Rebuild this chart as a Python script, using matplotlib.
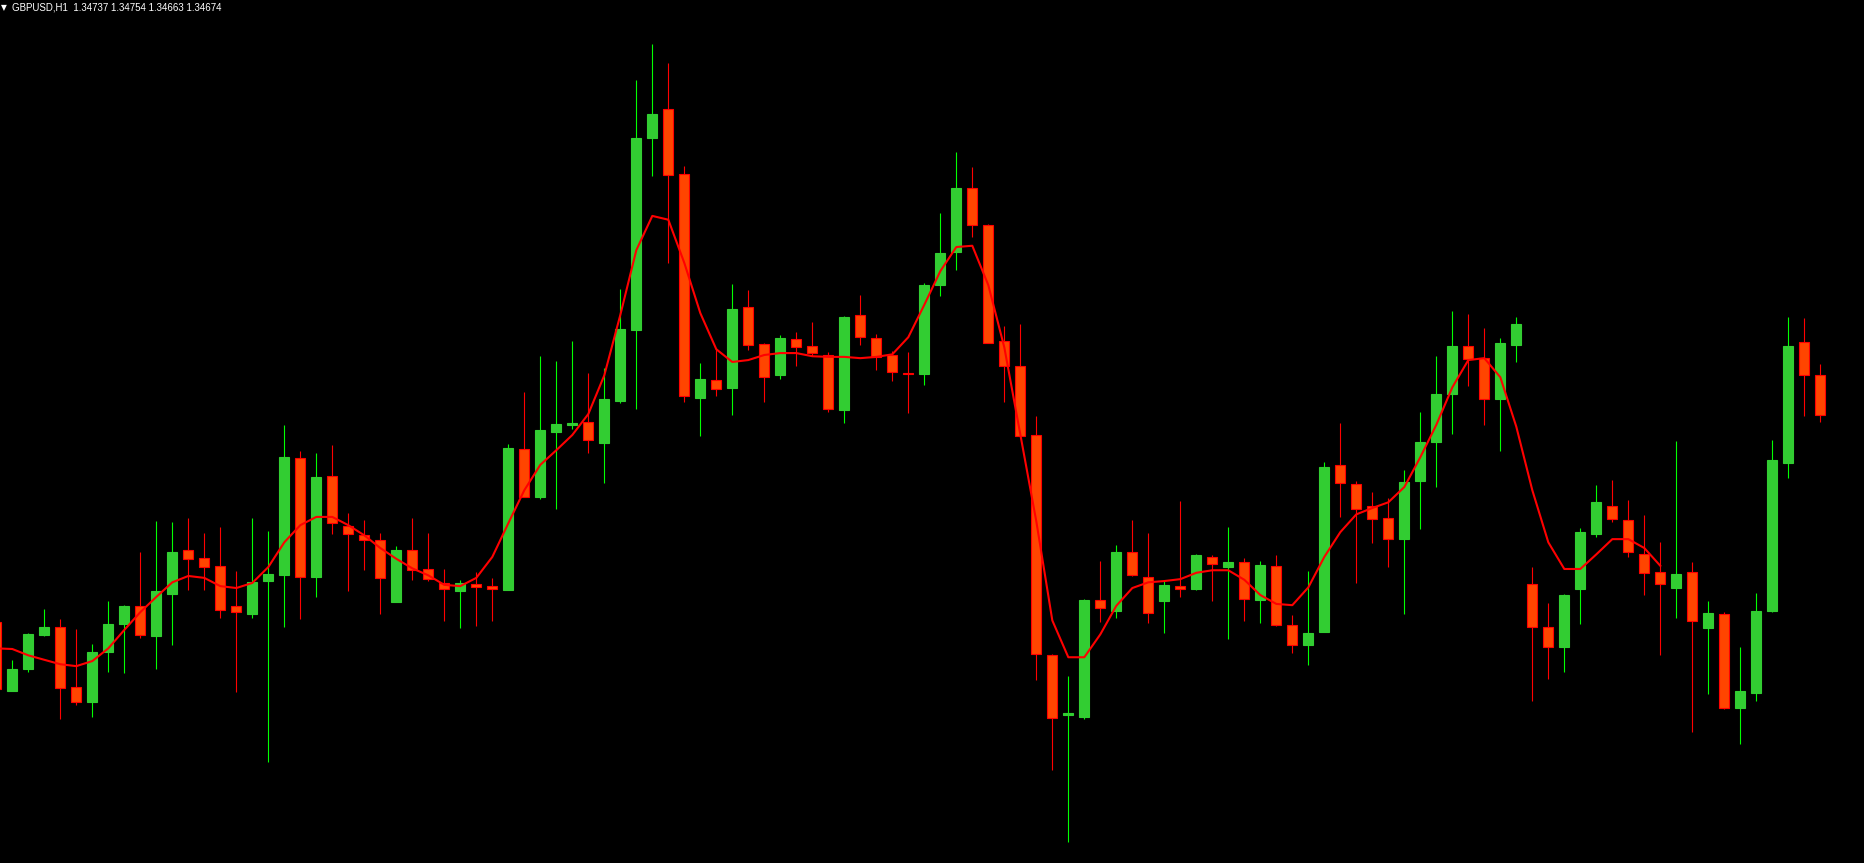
import numpy as np
import matplotlib.pyplot as plt

symbol = "GBPUSD,H1"

# hourly candles, oldest first
opens = [1.34347, 1.34239, 1.34273, 1.34327, 1.34340, 1.34245, 1.34221, 1.34300, 1.34344, 1.34373,
         1.34325, 1.34391, 1.34461, 1.34448, 1.34436, 1.34373, 1.34360, 1.34412, 1.34421, 1.34606,
         1.34418, 1.34577, 1.34499, 1.34484, 1.34477, 1.34379, 1.34461, 1.34431, 1.34409, 1.34396,
         1.34407, 1.34404, 1.34398, 1.34620, 1.34544, 1.34647, 1.34658, 1.34662, 1.34629, 1.34695,
         1.34807, 1.35110, 1.35155, 1.35053, 1.34700, 1.34728, 1.34716, 1.34843, 1.34785, 1.34736,
         1.34793, 1.34782, 1.34768, 1.34681, 1.34831, 1.34795, 1.34768, 1.34740, 1.34738, 1.34878,
         1.34930, 1.35031, 1.34973, 1.34790, 1.34751, 1.34642, 1.34295, 1.34201, 1.34198, 1.34382,
         1.34365, 1.34458, 1.34418, 1.34381, 1.34404, 1.34399, 1.34450, 1.34434, 1.34442, 1.34382,
         1.34436, 1.34343, 1.34311, 1.34332, 1.34595, 1.34565, 1.34530, 1.34511, 1.34478, 1.34569,
         1.34631, 1.34706, 1.34782, 1.34763, 1.34699, 1.34784, 1.34407, 1.34340, 1.34308, 1.34399,
         1.34486, 1.34530, 1.34508, 1.34454, 1.34426, 1.34401, 1.34426, 1.34338, 1.34360, 1.34212,
         1.34236, 1.34365, 1.34598, 1.34788, 1.34737]
highs = [1.34358, 1.34288, 1.34330, 1.34368, 1.34352, 1.34336, 1.34313, 1.34380, 1.34374, 1.34458,
         1.34506, 1.34505, 1.34511, 1.34488, 1.34497, 1.34428, 1.34511, 1.34491, 1.34658, 1.34617,
         1.34614, 1.34626, 1.34519, 1.34508, 1.34488, 1.34467, 1.34511, 1.34488, 1.34431, 1.34414,
         1.34426, 1.34417, 1.34628, 1.34710, 1.34766, 1.34758, 1.34790, 1.34740, 1.34747, 1.34872,
         1.35201, 1.35258, 1.35228, 1.35066, 1.34755, 1.34779, 1.34880, 1.34870, 1.34787, 1.34799,
         1.34804, 1.34820, 1.34773, 1.34829, 1.34862, 1.34801, 1.34774, 1.34773, 1.34881, 1.34992,
         1.35088, 1.35064, 1.34974, 1.34814, 1.34817, 1.34672, 1.34297, 1.34262, 1.34384, 1.34443,
         1.34469, 1.34508, 1.34488, 1.34414, 1.34538, 1.34454, 1.34453, 1.34497, 1.34448, 1.34443,
         1.34453, 1.34358, 1.34428, 1.34599, 1.34661, 1.34569, 1.34552, 1.34543, 1.34587, 1.34678,
         1.34766, 1.34837, 1.34832, 1.34810, 1.34795, 1.34828, 1.34434, 1.34377, 1.34391, 1.34495,
         1.34563, 1.34571, 1.34539, 1.34516, 1.34473, 1.34632, 1.34442, 1.34380, 1.34363, 1.34308,
         1.34393, 1.34634, 1.34828, 1.34826, 1.34754]
lows = [1.34232, 1.34239, 1.34269, 1.34325, 1.34195, 1.34217, 1.34198, 1.34269, 1.34267, 1.34322,
        1.34273, 1.34311, 1.34398, 1.34398, 1.34354, 1.34237, 1.34354, 1.34127, 1.34340, 1.34352,
        1.34387, 1.34486, 1.34396, 1.34429, 1.34360, 1.34379, 1.34414, 1.34412, 1.34349, 1.34338,
        1.34341, 1.34349, 1.34398, 1.34544, 1.34541, 1.34525, 1.34651, 1.34614, 1.34566, 1.34692,
        1.34683, 1.35050, 1.34913, 1.34694, 1.34640, 1.34703, 1.34673, 1.34776, 1.34694, 1.34730,
        1.34751, 1.34766, 1.34678, 1.34661, 1.34784, 1.34744, 1.34727, 1.34676, 1.34721, 1.34861,
        1.34902, 1.34954, 1.34787, 1.34694, 1.34640, 1.34256, 1.34114, 1.34001, 1.34195, 1.34347,
        1.34354, 1.34420, 1.34346, 1.34330, 1.34387, 1.34398, 1.34380, 1.34321, 1.34349, 1.34346,
        1.34341, 1.34299, 1.34280, 1.34332, 1.34513, 1.34409, 1.34472, 1.34434, 1.34360, 1.34494,
        1.34560, 1.34643, 1.34719, 1.34658, 1.34617, 1.34757, 1.34223, 1.34258, 1.34269, 1.34344,
        1.34481, 1.34505, 1.34450, 1.34390, 1.34295, 1.34354, 1.34174, 1.34234, 1.34210, 1.34155,
        1.34223, 1.34363, 1.34574, 1.34672, 1.34663]
closes = [1.34242, 1.34273, 1.34328, 1.34340, 1.34243, 1.34221, 1.34300, 1.34344, 1.34373, 1.34327,
          1.34396, 1.34458, 1.34447, 1.34434, 1.34366, 1.34363, 1.34410, 1.34423, 1.34607, 1.34418,
          1.34576, 1.34503, 1.34486, 1.34477, 1.34417, 1.34461, 1.34429, 1.34415, 1.34399, 1.34409,
          1.34402, 1.34399, 1.34621, 1.34544, 1.34650, 1.34659, 1.34661, 1.34634, 1.34699, 1.34809,
          1.35110, 1.35147, 1.35051, 1.34703, 1.34730, 1.34714, 1.34840, 1.34784, 1.34733, 1.34795,
          1.34780, 1.34771, 1.34683, 1.34828, 1.34796, 1.34765, 1.34741, 1.34738, 1.34878, 1.34929,
          1.35031, 1.34973, 1.34787, 1.34751, 1.34640, 1.34297, 1.34196, 1.34204, 1.34382, 1.34369,
          1.34458, 1.34421, 1.34361, 1.34406, 1.34399, 1.34453, 1.34439, 1.34442, 1.34384, 1.34437,
          1.34343, 1.34311, 1.34330, 1.34592, 1.34566, 1.34525, 1.34510, 1.34478, 1.34568, 1.34631,
          1.34706, 1.34782, 1.34762, 1.34699, 1.34787, 1.34817, 1.34340, 1.34308, 1.34390, 1.34489,
          1.34536, 1.34510, 1.34458, 1.34425, 1.34407, 1.34423, 1.34349, 1.34361, 1.34212, 1.34239,
          1.34365, 1.34603, 1.34782, 1.34736, 1.34674]

# centred moving average, stops 10 bars before the last candle
ma_line = [1.34306, 1.34305, 1.34295, 1.34288, 1.34281, 1.34278, 1.34286, 1.34306, 1.34335, 1.34363,
           1.34387, 1.34410, 1.34420, 1.34417, 1.34404, 1.34401, 1.34409, 1.34434, 1.34473, 1.34500,
           1.34513, 1.34513, 1.34500, 1.34484, 1.34464, 1.34447, 1.34432, 1.34421, 1.34406, 1.34404,
           1.34417, 1.34450, 1.34503, 1.34555, 1.34595, 1.34618, 1.34642, 1.34675, 1.34736, 1.34831,
           1.34933, 1.34987, 1.34981, 1.34913, 1.34834, 1.34777, 1.34757, 1.34760, 1.34768, 1.34771,
           1.34771, 1.34766, 1.34765, 1.34765, 1.34763, 1.34765, 1.34769, 1.34796, 1.34847, 1.34900,
           1.34938, 1.34940, 1.34878, 1.34780, 1.34643, 1.34506, 1.34350, 1.34292, 1.34292, 1.34328,
           1.34373, 1.34401, 1.34410, 1.34412, 1.34415, 1.34425, 1.34429, 1.34429, 1.34414, 1.34390,
           1.34376, 1.34374, 1.34402, 1.34450, 1.34489, 1.34517, 1.34527, 1.34536, 1.34560, 1.34607,
           1.34658, 1.34717, 1.34760, 1.34763, 1.34733, 1.34655, 1.34555, 1.34473, 1.34431, 1.34431,
           1.34454, 1.34478, 1.34478, 1.34464, 1.34436]

bull_body, bull_wick = "#32CD32", "#00FF00"
bear_body, bear_wick = "#FF4500", "#FF0000"

fig = plt.figure(figsize=(18.64, 8.63), dpi=100, facecolor="black")
ax = fig.add_axes([0, 0, 1, 1])
ax.set_facecolor("black")

o = np.array(opens)
h = np.array(highs)
l = np.array(lows)
c = np.array(closes)
x = np.arange(len(o))
up = c > o

ax.vlines(x, l, h, colors=np.where(up, bull_wick, bear_wick), linewidth=0.8, zorder=1)
low_edge = np.minimum(o, c)
body = np.abs(c - o)
ax.bar(x[up], body[up], bottom=low_edge[up], width=0.62, color=bull_body,
       edgecolor=bull_body, linewidth=0.8, zorder=2)
ax.bar(x[~up], body[~up], bottom=low_edge[~up], width=0.62, color=bear_body,
       edgecolor=bear_wick, linewidth=0.8, zorder=2)

ax.plot(np.arange(len(ma_line)), ma_line, color="#FF0000", linewidth=1.5, zorder=3)

ax.set_xlim(0.231, 116.73)
ax.set_ylim(1.33968, 1.35327)
ax.axis("off")

header = f"{symbol}  {opens[-1]:.5f} {highs[-1]:.5f} {lows[-1]:.5f} {closes[-1]:.5f}"
fig.text(12 / 1864, 1 - 7.5 / 863, header, color="white", fontsize=7,
         family="Liberation Sans", va="center", ha="left")
fig.text(0.5 / 1864, 1 - 7.5 / 863, "\u25bc", color="white", fontsize=5.5,
         family="DejaVu Sans", va="center", ha="left")

fig.savefig("out.png", dpi=100, facecolor="black")
